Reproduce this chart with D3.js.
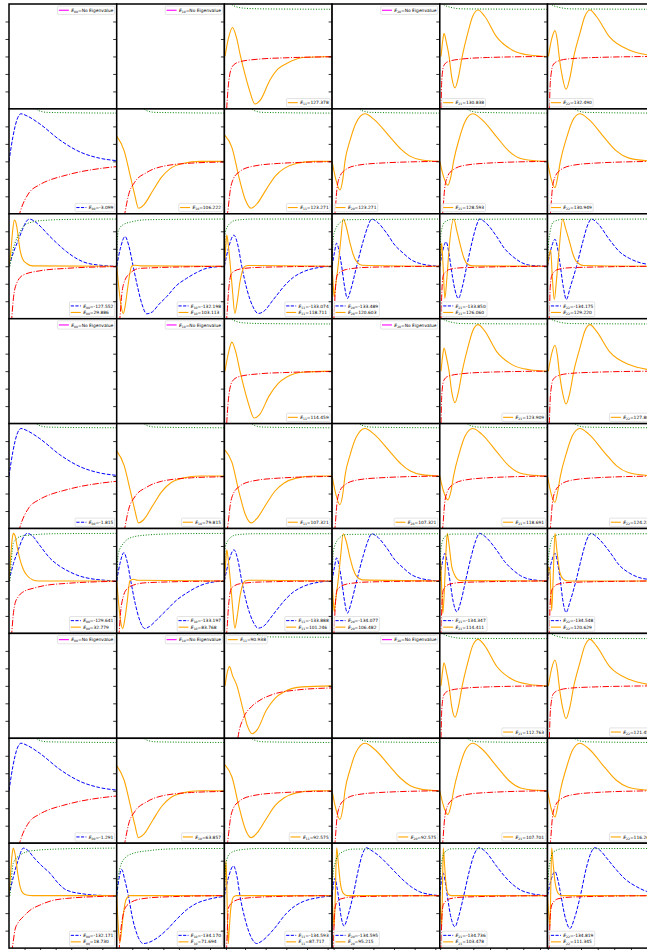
<!DOCTYPE html>
<html><head><meta charset="utf-8">
<script src="https://cdn.jsdelivr.net/npm/d3@7"></script>
<style>body{margin:0;background:#fff}svg{display:block}</style>
</head><body>
<svg id="c" width="647" height="950"></svg>
<script>
// ---------- layout ----------
const nRows = 9, nCols = 6;
const left0 = 9, top0 = 4, colW = 107.7, rowH = 104.9;
const xDomain = [0, 36], yDomain = [-1.5, 1.5];
const yTicks = [-1, -0.5, 0, 0.5, 1];
const xTicksByCol = [
  [5.2, 10.4, 15.6, 20.8, 26, 31.2],
  [5.2, 10.4, 15.6, 20.8, 26, 31.2],
  [0.5, 6.9, 13.8, 20.7, 27.6, 34.5],
  [0.5, 6.9, 13.8, 20.7, 27.6, 34.5],
  [0.1, 5.6, 11.2, 16.8, 22.3, 27.9, 33.5],
  [0.1, 5.6, 11.2, 16.8, 22.3, 27.9, 33.5]
];
const subs = ["00", "10", "11", "20", "21", "22"];

// ---------- legend values ----------
const blueEnergies = [
  [null, null, null, null, null, null],
  ["-3.099", null, null, null, null, null],
  ["-127.552", "-132.198", "-133.074", "-133.489", "-133.850", "-134.175"],
  [null, null, null, null, null, null],
  ["-1.815", null, null, null, null, null],
  ["-129.641", "-133.197", "-133.888", "-134.077", "-134.347", "-134.548"],
  [null, null, null, null, null, null],
  ["-1.291", null, null, null, null, null],
  ["-132.171", "-134.170", "-134.593", "-134.595", "-134.736", "-134.819"]
];
const orangeEnergies = [
  ["NE", "NE", "127.378", "NE", "130.838", "132.490"],
  [null, "106.222", "123.271", "123.271", "128.593", "130.949"],
  ["29.886", "103.113", "118.711", "120.603", "126.060", "129.220"],
  ["NE", "NE", "114.459", "NE", "123.909", "127.808"],
  [null, "79.815", "107.321", "107.321", "118.691", "124.238"],
  ["32.779", "83.768", "101.246", "106.482", "114.411", "120.629"],
  ["NE", "NE", "90.938", "NE", "112.763", "121.455"],
  [null, "63.857", "92.575", "92.575", "107.701", "116.262"],
  ["18.730", "71.694", "87.717", "95.215", "103.478", "111.345"]
];
const legendLoc = [
  ["TR", "TR", "BR", "TR", "BL", "BL"],
  ["BR", "BR", "BR", "BL", "BL", "BL"],
  ["BR", "BR", "BR", "BL", "BL", "BL"],
  ["TR", "TR", "BR", "TR", "BR", "BR"],
  ["BR", "BR", "BR", "BR", "BR", "BR"],
  ["BR", "BR", "BR", "BL", "BL", "BL"],
  ["TR", "TR", "TL", "TR", "BR", "BR"],
  ["BR", "BR", "BR", "BR", "BR", "BR"],
  ["BR", "BR", "BR", "BL", "BL", "BL"]
];

// ---------- curve samples (x, y) ----------
// group A (rows 0,3,6)
const oA2 = [[0.2,0],[1.3,0.5],[2.7,0.83],[4,0.55],[5.4,0],[7,-0.55],[8.5,-1.0],[10.2,-1.36],[12,-1.25],[15.2,-0.68],[18,-0.35],[20.8,-0.2],[26.3,-0.03],[36,0]];
const oA2b = [[0.2,0],[1.3,0.5],[2.5,0.83],[3.8,0.55],[5.2,0],[6.8,-0.55],[8.3,-1.0],[9.9,-1.34],[11.7,-1.25],[15,-0.7],[18,-0.35],[21,-0.16],[26,-0.03],[36,0]];
const oA2c = [[0.2,0],[1,0.4],[1.7,0.55],[2.7,0.3],[4.2,0],[6,-0.6],[7.5,-1.1],[9.3,-1.37],[11,-1.25],[14,-0.7],[17,-0.35],[20,-0.17],[26,-0.03],[36,0]];
const oA4 = [[0.4,0],[0.9,0.4],[1.4,0.66],[2.2,0.4],[3.1,0],[4,-0.6],[5.1,-0.9],[6.2,-0.6],[7.5,0],[9.3,0.65],[11,1.15],[12.8,1.33],[15,1.15],[19,0.56],[24.3,0.18],[30,0.04],[36,0]];
const oA5 = [[0.3,0],[1.4,0.5],[2.5,0.74],[3.3,0.45],[3.9,0],[5,-0.6],[6.2,-0.94],[7.5,-0.6],[8.8,0],[10.8,0.65],[12.5,1.15],[14.2,1.33],[16.3,1.15],[20.8,0.55],[27.5,0.18],[33.2,0.05],[36,0.02]];
const rA2 = [[0.6,-1.8],[0.77,-1.5],[1.2,-0.95],[1.87,-0.48],[3,-0.25],[5.2,-0.15],[11.7,-0.075],[20,-0.04],[36,-0.01]];
const rA2c = [[4.2,-1.8],[4.5,-1.5],[6.5,-0.9],[9,-0.6],[11.9,-0.41],[16,-0.25],[24,-0.12],[36,-0.06]];
const rA4 = [[0.3,-1.8],[0.4,-1.5],[0.6,-0.8],[0.9,-0.45],[1.3,-0.27],[2.7,-0.15],[6.7,-0.08],[16,-0.03],[36,0]];
const rA5 = [[0.4,-1.8],[0.6,-1.5],[0.9,-0.8],[1.3,-0.45],[1.8,-0.25],[3.3,-0.14],[7,-0.07],[16,-0.03],[36,0]];
const gA2 = [[1.3,1.6],[2.3,1.5],[4,1.42],[6.7,1.38],[13.3,1.36],[36,1.35]];
const gA2c = [[10,1.6],[12,1.42],[16,1.4],[36,1.39]];
const gA4 = [[0.5,1.6],[0.6,1.52],[3.4,1.41],[7.8,1.36],[36,1.35]];
const gA5 = [[0.6,1.6],[0.8,1.52],[3.6,1.41],[8,1.36],[36,1.35]];

// group B (rows 1,4,7)
const bB0 = [[0,0],[1.3,0.7],[2.7,1.2],[4,1.36],[6,1.3],[10.3,1.07],[17,0.61],[23.7,0.27],[30.3,0.09],[36,0.02]];
const oB1 = [[0,0.72],[2.5,0.3],[4.5,-0.4],[6,-0.95],[7.3,-1.34],[9,-1.25],[12,-0.85],[15,-0.45],[18,-0.2],[22,-0.06],[28,0],[36,0]];
const oB2 = [[0.2,0.74],[2.5,0.4],[5,-0.5],[7,-1.1],[8.9,-1.34],[11,-1.2],[14,-0.8],[17,-0.42],[20,-0.2],[24,-0.06],[30,0],[36,0]];
const oB3 = [[0,0],[1.2,-0.5],[2.6,-0.82],[3.6,-0.5],[4.3,0],[6,0.6],[8,1.1],[11,1.36],[14,1.2],[19.3,0.7],[23,0.35],[26,0.15],[30,0.04],[36,0]];
const oB4 = [[0,0],[1.3,-0.45],[2.7,-0.68],[3.8,-0.4],[4.6,0],[6.5,0.65],[8.5,1.15],[11,1.36],[14,1.2],[19,0.7],[23,0.3],[27,0.08],[33,0.01],[36,0]];
const oB5 = [[0,0],[1.2,-0.5],[2.5,-0.75],[3.5,-0.4],[4.3,0],[6.3,0.65],[8.3,1.15],[10.8,1.36],[13.8,1.2],[19,0.68],[23,0.3],[27,0.1],[33,0.02],[36,0]];
const rB0 = [[3.2,-1.6],[3.7,-1.45],[6.7,-0.9],[10,-0.68],[13.7,-0.53],[18,-0.42],[23.7,-0.3],[30,-0.21],[36,-0.15]];
const rB1 = [[2.5,-1.6],[2.8,-1.45],[4,-0.95],[6,-0.6],[10,-0.32],[15,-0.15],[25,-0.05],[36,-0.02]];
const rB2 = [[0.8,-1.6],[1.1,-1.45],[2,-0.8],[3,-0.5],[5,-0.3],[9,-0.15],[18,-0.06],[36,-0.01]];
const rB3 = [[0.8,-1.6],[1,-1.45],[1.6,-0.8],[2.5,-0.45],[4.3,-0.25],[8,-0.12],[16,-0.05],[36,0]];
const gB = [[8,1.6],[10,1.45],[13,1.4],[36,1.38]];

// group C (rows 2,5,8)
const bC0 = [[0,0],[1.5,0.4],[3.1,0.75],[4.5,1.05],[5.7,1.27],[6.8,1.35],[8.3,1.3],[10,1.18],[13.7,0.85],[16.5,0.62],[19.2,0.42],[22,0.25],[24.7,0.13],[30.3,0.03],[36,0]];
const oC0 = [[0,0],[0.7,0.5],[1.2,1.0],[1.8,1.32],[2.3,1.25],[2.6,1.13],[3.7,0.46],[4.6,0.2],[5.9,0.08],[8,0.01],[36,0]];
const gC0 = [[0.3,0],[1,0.35],[2,0.66],[3.5,0.95],[5.3,1.18],[8,1.27],[11.4,1.31],[20,1.34],[36,1.35]];
const rC0 = [[0.8,-1.6],[0.9,-1.5],[1.5,-0.9],[2.6,-0.48],[4.8,-0.25],[10.3,-0.13],[19.2,-0.06],[36,-0.01]];
const bC1 = [[0,0],[1.2,0.5],[2.8,0.85],[4,0.6],[5.5,0],[7,-0.6],[8.5,-1.1],[10,-1.36],[12,-1.3],[14,-1.1],[16.7,-0.87],[20,-0.55],[23.3,-0.35],[26.7,-0.18],[30,-0.06],[36,0]];
const oC1 = [[0,0],[0.7,-0.6],[1.5,-1.15],[2.2,-1.35],[2.9,-1.1],[3.7,-0.6],[5,0],[6,0.03],[8,0.01],[36,0]];
const gC1 = [[0,0],[0.2,0.7],[0.5,1.0],[2,1.18],[5.5,1.28],[10,1.33],[36,1.35]];
const rC1 = [[0.9,-1.6],[1.1,-1.45],[1.7,-0.8],[2.8,-0.39],[4.5,-0.2],[7.7,-0.06],[36,0]];
const bC2 = [[0,0],[1.3,0.5],[3.2,0.89],[4.5,0.6],[5.8,0],[7.5,-0.65],[9.5,-1.15],[11.3,-1.35],[13,-1.3],[16.3,-0.96],[20.7,-0.5],[23,-0.32],[26.3,-0.16],[32,-0.03],[36,0]];
const oC2 = [[0,0],[0.4,0.5],[0.8,0.89],[1.3,0.6],[2,0],[2.7,-0.7],[3.5,-1.35],[4.3,-1.0],[5.3,-0.4],[6.9,0],[8,0.02],[36,0]];
const gC2 = [[0,0],[0.2,0.95],[1.9,1.23],[4.1,1.32],[10,1.35],[36,1.35]];
const rC2 = [[0.6,-1.6],[0.8,-1.45],[1.4,-0.7],[2.4,-0.2],[5.2,-0.08],[12,-0.03],[36,0]];
const bC3 = [[0,0],[0.8,0.4],[1.5,0.66],[2.3,0.45],[3.2,0],[4.2,-0.6],[5.1,-0.92],[6.3,-0.65],[8.2,0],[10.5,0.75],[12,1.15],[13.2,1.35],[15,1.27],[18.2,0.95],[21,0.6],[23.7,0.38],[26.5,0.18],[29.3,0.08],[33,0.02],[36,0]];
const oC3 = [[0,0],[0.35,-0.5],[0.7,-0.88],[1.1,-0.6],[2,0],[2.9,0.75],[3.7,1.35],[4.5,1.2],[6,0.66],[7,0.35],[8.2,0.13],[10,0.03],[36,0]];
const gC3 = [[0,0],[0.3,0.7],[0.7,0.95],[2.7,1.25],[5,1.33],[36,1.35]];
const rC3 = [[0.5,-1.6],[0.65,-1.45],[1,-0.8],[1.7,-0.25],[4.9,-0.09],[12,-0.03],[36,0]];
const bC4 = [[0,0],[1,0.45],[2.1,0.7],[3,0.4],[3.7,0],[5,-0.65],[6.2,-0.92],[7.5,-0.6],[9,0],[10.8,0.7],[12.2,1.15],[13.3,1.35],[15,1.27],[19,0.85],[21.5,0.52],[24.5,0.27],[27,0.12],[30,0.03],[36,0]];
const oC4 = [[0,0],[0.35,0.4],[0.65,0.66],[1.1,0],[1.7,-0.92],[2.4,-0.3],[3.2,0.6],[4.7,1.35],[5.6,1.05],[6.7,0.66],[8,0.25],[9,0.08],[11,0.01],[36,0]];
const gC4 = [[0,0],[0.2,0.6],[0.4,0.95],[1.7,1.27],[4,1.34],[36,1.35]];
const rC4 = [[0.3,-1.6],[0.4,-1.45],[0.7,-0.7],[1.2,-0.25],[3.3,-0.09],[7.8,-0.04],[36,0]];
const bC5 = [[0,0],[1.2,0.5],[2.5,0.77],[3.5,0.45],[4.3,0],[5.3,-0.6],[6.3,-0.95],[7.6,-0.6],[9.7,0],[11.8,0.7],[13.3,1.15],[14.7,1.35],[16.5,1.25],[20.8,0.75],[24,0.42],[27.5,0.22],[31,0.1],[33.2,0.06],[36,0.03]];
const oC5 = [[0,0],[0.5,0.3],[1.07,0.46],[1.6,-0.3],[2.27,-0.95],[3,-0.4],[3.8,0.4],[5.07,1.35],[6,1.1],[7.5,0.66],[8.5,0.35],[9.7,0.13],[12,0.02],[36,0]];
const gC5 = [[0,0],[0.3,0.6],[0.8,0.95],[2,1.27],[5,1.34],[36,1.35]];
const rC5 = [[0.5,-1.6],[0.6,-1.45],[0.9,-0.6],[1.5,-0.25],[3.5,-0.09],[8,-0.04],[36,0]];

const bC0r5 = [[0,0],[1.5,0.5],[3.1,0.89],[4.5,1.2],[6.1,1.36],[7.7,1.3],[10,1.05],[13.7,0.65],[17,0.42],[20.3,0.26],[24,0.13],[27,0.07],[32,0.02],[36,0]];
const oC0r5 = [[0,0],[0.5,0.6],[1,1.15],[1.43,1.36],[2,1.3],[2.8,0.95],[3.7,0.6],[4.8,0.33],[5.9,0.17],[8,0.03],[10,0],[36,0]];
const gC0r5 = [[0.3,0],[0.8,0.6],[1.43,1.08],[2.5,1.2],[3.7,1.27],[8.1,1.32],[15,1.35],[36,1.36]];
const rC0r5 = [[0.8,-1.6],[0.9,-1.5],[1.5,-0.9],[2,-0.65],[3.1,-0.45],[5,-0.3],[8.1,-0.21],[12,-0.13],[19.2,-0.07],[36,-0.01]];
const bC1r5 = [[0,0],[1.1,0.5],[2.4,0.81],[3.5,0.55],[4.7,0],[6.2,-0.65],[7.8,-1.15],[9.4,-1.36],[11,-1.3],[13.5,-1.1],[16.7,-0.83],[20,-0.55],[23.3,-0.35],[26.7,-0.18],[30,-0.07],[36,0]];
const oC1r5 = [[0,0],[0.6,-0.6],[1.3,-1.15],[2,-1.36],[2.7,-1.1],[3.5,-0.6],[4.4,0],[5.5,0.05],[7,0.02],[36,0]];
const gC1r5 = [[0,0],[0.53,0.78],[2.2,1.07],[5.5,1.26],[11,1.32],[20,1.35],[36,1.36]];
const rC1r5 = [[0.7,-1.6],[0.8,-1.5],[1.3,-0.9],[2.2,-0.45],[3.5,-0.22],[5.5,-0.12],[10,-0.05],[36,0]];
const bC4r5 = [[0,0],[0.8,0.5],[1.73,0.79],[2.6,0.45],[3.4,0],[4.5,-0.6],[5.7,-0.88],[7,-0.6],[8.6,0],[10.5,0.7],[12,1.15],[13.3,1.36],[15,1.28],[19,0.88],[21.7,0.55],[24.5,0.31],[27,0.15],[30,0.05],[36,0]];
const oC4r5 = [[0,0],[0.3,0.6],[0.55,0],[1,-0.93],[1.5,-0.3],[2,0.7],[2.5,1.36],[3,1.1],[4,0.41],[4.8,0.2],[5.7,0.07],[7,0.01],[36,0]];
const bC5r5 = [[0,0],[1.2,0.5],[2.5,0.79],[3.5,0.45],[4.3,0],[5.2,-0.6],[6.2,-0.9],[7.5,-0.6],[9.5,0],[11.5,0.7],[13,1.15],[14.5,1.36],[16.3,1.27],[20.8,0.83],[24,0.45],[27.5,0.22],[30.5,0.1],[33.2,0.05],[36,0.02]];
const oC5r5 = [[0,0],[0.4,0.4],[0.8,0.3],[1.4,-0.85],[1.9,0.1],[2.5,1.36],[3.1,0.9],[4.2,0.22],[5.2,0.06],[6.7,0],[36,0]];

const bC0r8 = [[0,0],[1.5,0.55],[3,1.0],[4.8,1.36],[6.5,1.28],[8.1,1.11],[11,0.85],[13.7,0.64],[16.5,0.35],[19.2,0.16],[24.8,0.05],[30,0.01],[36,0]];
const oC0r8 = [[0,0],[0.5,0.6],[1,1.15],[1.43,1.36],[2,1.2],[2.8,0.7],[3.7,0.26],[4.6,0.08],[5.9,0.02],[8,0],[36,0]];
const gC0r8 = [[0.3,0],[0.8,0.5],[1.43,0.93],[3.7,1.16],[8.1,1.29],[19,1.34],[36,1.36]];
const rC0r8 = [[0.9,-1.6],[1.1,-1.5],[2,-0.98],[3,-0.78],[4.8,-0.6],[7,-0.42],[10.3,-0.27],[14,-0.15],[19.2,-0.08],[36,-0.01]];
const bC1r8 = [[0,0],[0.8,0.5],[1.67,0.75],[2.7,0.45],[3.9,0],[5.3,-0.65],[7,-1.15],[8.9,-1.37],[11,-1.33],[14,-1.18],[16.7,-0.98],[20,-0.68],[23.3,-0.41],[26.7,-0.22],[30,-0.12],[36,-0.02]];
const oC1r8 = [[0,0],[0.4,-0.7],[0.8,-1.2],[1.1,-1.33],[1.5,-1.1],[2.2,-0.55],[3.1,-0.12],[4.4,0],[36,0]];
const gC1r8 = [[0,0],[0.53,0.54],[2.2,1.02],[5.5,1.21],[11,1.29],[20,1.34],[36,1.35]];
const rC1r8 = [[0.8,-1.6],[0.87,-1.5],[1.67,-0.79],[3.3,-0.29],[7.7,-0.1],[15,-0.04],[36,0]];
const bC2r8 = [[0,0],[1.3,0.5],[3,0.85],[4.2,0.55],[5.2,0],[7,-0.7],[9,-1.2],[10.8,-1.37],[12.5,-1.3],[16.3,-0.98],[20.8,-0.5],[23.5,-0.3],[26.3,-0.17],[31.9,-0.05],[36,0]];
const oC2r8 = [[0,0],[0.25,0.6],[0.53,1.0],[0.8,0.3],[1.05,-0.8],[1.3,-1.37],[1.6,-1.0],[2.1,-0.4],[3,-0.04],[4,0],[36,0]];
const gC2r8 = [[0,0],[0.2,0.5],[0.53,0.93],[1.87,1.21],[5.2,1.31],[12,1.35],[36,1.35]];
const rC2r8 = [[0.6,-1.6],[0.75,-1.45],[1.33,-0.36],[3,-0.17],[6.3,-0.08],[15,-0.03],[36,0]];
const bC3r8 = [[0,0],[0.5,0.35],[1,0.5],[1.5,0.3],[2.07,0],[3,-0.6],[4,-0.87],[5.2,-0.6],[7,0],[8.8,0.75],[10.2,1.2],[11.5,1.37],[13,1.3],[15.5,1.15],[18.2,0.93],[21,0.68],[23.7,0.45],[26.5,0.25],[29.3,0.11],[33,0.03],[36,0]];
const oC3r8 = [[0,0],[0.3,-0.5],[0.67,-0.88],[1,-0.2],[1.53,1.37],[2,1.0],[2.7,0.4],[3.7,0.07],[5,0],[36,0]];
const gC3r8 = [[0,0],[0.3,0.6],[1,0.93],[2.7,1.21],[6.7,1.33],[36,1.35]];
const rC3r8 = [[0.3,-1.6],[0.4,-1.45],[0.8,-0.5],[1.5,-0.2],[3,-0.09],[8,-0.03],[36,0]];
const bC4r8 = [[0,0],[0.5,0.4],[1.17,0.64],[1.8,0.4],[2.5,0],[3.8,-0.65],[5.07,-0.89],[6.3,-0.6],[8,0],[10,0.75],[11.6,1.2],[13.2,1.37],[15,1.28],[19,0.84],[21.7,0.55],[24.5,0.31],[27,0.16],[30,0.07],[36,0]];
const oC4r8 = [[0,0],[0.3,-0.5],[0.63,-0.88],[0.9,0.2],[1.17,1.37],[1.5,1.0],[2,0.4],[2.8,0.05],[4,0],[36,0]];
const gC4r8 = [[0,0],[0.2,0.6],[0.6,0.95],[1.7,1.25],[4,1.34],[36,1.35]];
const rC4r8 = [[0.3,-1.6],[0.4,-1.45],[0.7,-0.6],[1.2,-0.25],[3.3,-0.09],[8,-0.04],[36,0]];
const bC5r8 = [[0,0],[1.2,0.45],[2.5,0.69],[3.6,0.4],[4.5,0],[6,-0.65],[7.5,-0.94],[9,-0.65],[11,0],[13,0.8],[14.5,1.22],[15.8,1.37],[17.5,1.3],[20,1.05],[23,0.74],[26,0.47],[29.7,0.26],[33.2,0.12],[36,0.07]];
const oC5r8 = [[0,0],[0.4,-0.5],[0.83,-0.88],[1.1,0.2],[1.4,1.37],[1.8,1.0],[2.5,0.4],[3.7,0.05],[5,0],[36,0]];
const gC5r8 = [[0,0],[0.3,0.6],[0.8,0.95],[2,1.25],[5,1.34],[36,1.35]];
const rC5r8 = [[0.5,-1.6],[0.6,-1.45],[0.9,-0.6],[1.5,-0.25],[3.5,-0.09],[8,-0.04],[36,0]];

// which curve goes in which panel: [row, col, samples]
const blueSeries = [
  [1,0,bB0],[4,0,bB0],[7,0,bB0],
  [2,0,bC0],[2,1,bC1],[2,2,bC2],[2,3,bC3],[2,4,bC4],[2,5,bC5],
  [5,0,bC0r5],[5,1,bC1r5],[5,2,bC2],[5,3,bC3],[5,4,bC4r5],[5,5,bC5r5],
  [8,0,bC0r8],[8,1,bC1r8],[8,2,bC2r8],[8,3,bC3r8],[8,4,bC4r8],[8,5,bC5r8]
];
const orangeSeries = [
  [0,2,oA2],[0,4,oA4],[0,5,oA5],[3,2,oA2b],[3,4,oA4],[3,5,oA5],[6,2,oA2c],[6,4,oA4],[6,5,oA5],
  [1,1,oB1],[1,2,oB2],[1,3,oB3],[1,4,oB4],[1,5,oB5],
  [4,1,oB1],[4,2,oB2],[4,3,oB3],[4,4,oB4],[4,5,oB5],
  [7,1,oB1],[7,2,oB2],[7,3,oB3],[7,4,oB4],[7,5,oB5],
  [2,0,oC0],[2,1,oC1],[2,2,oC2],[2,3,oC3],[2,4,oC4],[2,5,oC5],
  [5,0,oC0r5],[5,1,oC1r5],[5,2,oC2],[5,3,oC3],[5,4,oC4r5],[5,5,oC5r5],
  [8,0,oC0r8],[8,1,oC1r8],[8,2,oC2r8],[8,3,oC3r8],[8,4,oC4r8],[8,5,oC5r8]
];
const redSeries = [
  [0,2,rA2],[0,4,rA4],[0,5,rA5],[3,2,rA2],[3,4,rA4],[3,5,rA5],[6,2,rA2c],[6,4,rA4],[6,5,rA5],
  [1,0,rB0],[1,1,rB1],[1,2,rB2],[1,3,rB3],[1,4,rB3],[1,5,rB3],
  [4,0,rB0],[4,1,rB1],[4,2,rB2],[4,3,rB3],[4,4,rB3],[4,5,rB3],
  [7,0,rB0],[7,1,rB1],[7,2,rB2],[7,3,rB3],[7,4,rB3],[7,5,rB3],
  [2,0,rC0],[2,1,rC1],[2,2,rC2],[2,3,rC3],[2,4,rC4],[2,5,rC5],
  [5,0,rC0r5],[5,1,rC1r5],[5,2,rC2],[5,3,rC3],[5,4,rC4],[5,5,rC5],
  [8,0,rC0r8],[8,1,rC1r8],[8,2,rC2r8],[8,3,rC3r8],[8,4,rC4r8],[8,5,rC5r8]
];
const greenSeries = [
  [0,2,gA2],[0,4,gA4],[0,5,gA5],[3,2,gA2],[3,4,gA4],[3,5,gA5],[6,2,gA2c],[6,4,gA4],[6,5,gA5],
  [1,0,gB],[1,1,gB],[1,2,gB],[1,3,gB],[1,4,gB],[1,5,gB],
  [4,0,gB],[4,1,gB],[4,2,gB],[4,3,gB],[4,4,gB],[4,5,gB],
  [7,0,gB],[7,1,gB],[7,2,gB],[7,3,gB],[7,4,gB],[7,5,gB],
  [2,0,gC0],[2,1,gC1],[2,2,gC2],[2,3,gC3],[2,4,gC4],[2,5,gC5],
  [5,0,gC0r5],[5,1,gC1r5],[5,2,gC2],[5,3,gC3],[5,4,gC4],[5,5,gC5],
  [8,0,gC0r8],[8,1,gC1r8],[8,2,gC2r8],[8,3,gC3r8],[8,4,gC4r8],[8,5,gC5r8]
];

// ---------- drawing ----------
const svg = d3.select("#c");
const x = d3.scaleLinear().domain(xDomain).range([0, colW]);
const y = d3.scaleLinear().domain(yDomain).range([rowH, 0]);
const line = d3.line().x(d => x(d[0])).y(d => y(d[1])).curve(d3.curveMonotoneX);

svg.append("defs").append("clipPath").attr("id", "pclip")
  .append("rect").attr("x", 0).attr("y", 0).attr("width", colW).attr("height", rowH);

const styles = {
  blue:   {stroke: "blue",   w: 1.0, dash: "3.7,1.6"},
  orange: {stroke: "orange", w: 1.1, dash: null},
  red:    {stroke: "red",    w: 1.0, dash: "6.4,1.6,1,1.6"},
  green:  {stroke: "green",  w: 1.0, dash: "1,1.65"},
  magenta:{stroke: "magenta",w: 1.1, dash: null}
};

const panelG = [];
for (let r = 0; r < nRows; r++) {
  panelG.push([]);
  for (let c = 0; c < nCols; c++) {
    const g = svg.append("g").attr("transform", `translate(${left0 + c * colW},${top0 + r * rowH})`);
    g.append("rect").attr("width", colW).attr("height", rowH).attr("fill", "#fff");
    const plot = g.append("g").attr("clip-path", "url(#pclip)");
    panelG[r].push({g, plot});
  }
}

function drawSeries(list, key) {
  const st = styles[key];
  list.forEach(([r, c, pts]) => {
    const p = panelG[r][c].plot.append("path")
      .attr("d", line(pts)).attr("fill", "none")
      .attr("stroke", st.stroke).attr("stroke-width", st.w);
    if (st.dash) p.attr("stroke-dasharray", st.dash);
  });
}
drawSeries(blueSeries, "blue");
drawSeries(orangeSeries, "orange");
drawSeries(redSeries, "red");
drawSeries(greenSeries, "green");

// spines & ticks
for (let r = 0; r < nRows; r++) {
  for (let c = 0; c < nCols; c++) {
    const {g} = panelG[r][c];
    const ya = g.append("g").call(d3.axisLeft(y).tickValues(yTicks).tickSize(3.5).tickFormat(""));
    ya.select(".domain").remove();
    ya.selectAll("line").attr("stroke", "#000").attr("stroke-width", 0.8);
    if (r === nRows - 1) {
      const xa = g.append("g").attr("transform", `translate(0,${rowH})`)
        .call(d3.axisBottom(x).tickValues(xTicksByCol[c]).tickSize(3.5).tickFormat(""));
      xa.select(".domain").remove();
      xa.selectAll("line").attr("stroke", "#000").attr("stroke-width", 0.8);
    }
    g.append("rect").attr("width", colW).attr("height", rowH)
      .attr("fill", "none").attr("stroke", "#000").attr("stroke-width", 1.5);
  }
}

// legends
const fs = 4.4, entryH = 6.5, pad = 0.9, handleL = 10, gap = 2.4, margin = 2.1;
for (let r = 0; r < nRows; r++) {
  for (let c = 0; c < nCols; c++) {
    const entries = [];
    if (blueEnergies[r][c]) entries.push({key: "blue", val: blueEnergies[r][c]});
    const oe = orangeEnergies[r][c];
    if (oe === "NE") entries.push({key: "magenta", val: "No Eigenvalue"});
    else if (oe) entries.push({key: "orange", val: oe});
    if (!entries.length) continue;
    const {g} = panelG[r][c];
    const lg = g.append("g");
    const box = lg.append("rect").attr("fill", "#fff").attr("fill-opacity", 0.85)
      .attr("stroke", "#d0d0d0").attr("stroke-width", 0.6).attr("rx", 1);
    let maxW = 0;
    entries.forEach((e, i) => {
      const it = lg.append("g");
      const st = styles[e.key];
      const hl = it.append("line").attr("x1", 1.3).attr("x2", 1.3 + handleL)
        .attr("y1", pad + entryH * i + entryH / 2).attr("y2", pad + entryH * i + entryH / 2)
        .attr("stroke", st.stroke).attr("stroke-width", st.w);
      if (e.key === "blue") hl.attr("stroke-dasharray", "3.2,1.4");
      const t = it.append("text").attr("x", 1.3 + handleL + gap)
        .attr("y", pad + entryH * i + entryH / 2 + fs * 0.36)
        .attr("font-family", "DejaVu Sans, sans-serif").attr("font-size", fs).attr("fill", "#000");
      t.append("tspan").attr("font-style", "italic").text("E");
      t.append("tspan").attr("font-size", fs * 0.7).attr("dy", fs * 0.25).text(subs[c]);
      t.append("tspan").attr("dy", -fs * 0.25).text("=" + e.val);
      maxW = Math.max(maxW, t.node().getComputedTextLength());
    });
    const bw = 1.3 + handleL + gap + maxW + 1.3;
    const bh = entries.length * entryH + 2 * pad;
    box.attr("width", bw).attr("height", bh);
    const loc = legendLoc[r][c];
    const lx = loc[1] === "R" ? colW - margin - bw : margin;
    const ly = loc[0] === "T" ? margin : rowH - margin - bh;
    lg.attr("transform", `translate(${lx},${ly})`);
  }
}
</script>
</body></html>
